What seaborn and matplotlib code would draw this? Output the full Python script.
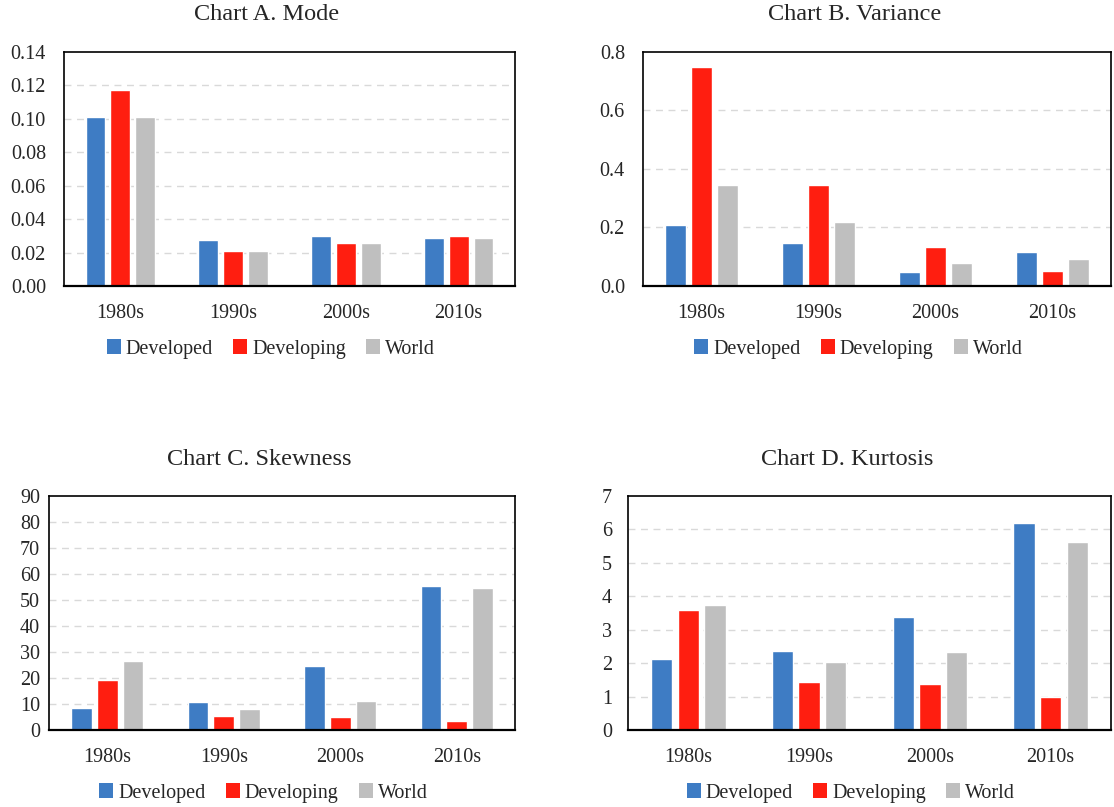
import pandas as pd
import numpy as np
import matplotlib.pyplot as plt
import seaborn as sns
from matplotlib.patches import Patch

## dados

decadas = ['1980s', '1990s', '2000s', '2010s']
grupos = ['Developed', 'Developing', 'World']

mode_developed = [0.101, 0.0274, 0.0302, 0.0286]
mode_developing = [0.117, 0.021, 0.0258, 0.030]
mode_world = [0.101, 0.021, 0.0258, 0.0286]

var_developed = [0.208, 0.147, 0.047, 0.116]
var_developing = [0.750, 0.344, 0.132, 0.051]
var_world = [0.344, 0.220, 0.080, 0.094]

skew_developed = [8.6, 10.9, 24.8, 55.4]
skew_developing = [19.2, 5.4, 5.0, 3.5]
skew_world = [26.5, 8.2, 11.3, 54.8]

kurt_developed = [2.11, 2.35, 3.37, 6.18]
kurt_developing = [3.59, 1.44, 1.39, 0.99]
kurt_world = [3.75, 2.04, 2.34, 5.63]

cores = ['#3E7CC4', '#FF1E10', '#BFBFBF']

sns.set_style('white')
plt.rcParams['font.family'] = ['Liberation Serif', 'DejaVu Serif']

fig = plt.figure(figsize=(11.14, 8.07), dpi=100)
W, H = 1114, 807


def montar_df(dev, deving, world):
    linhas = []
    for i, d in enumerate(decadas):
        linhas.append((d, 'Developed', dev[i]))
        linhas.append((d, 'Developing', deving[i]))
        linhas.append((d, 'World', world[i]))
    return pd.DataFrame(linhas, columns=['decada', 'grupo', 'valor'])


paineis = [
    # titulo, dados, caixa em pixels (esq, topo, dir, base), yticks, formato, pad
    ('Chart A. Mode', (mode_developed, mode_developing, mode_world),
     (64, 52, 515, 286), np.arange(0, 0.141, 0.02), '{:.2f}', 13),
    ('Chart B. Variance', (var_developed, var_developing, var_world),
     (643, 52, 1111, 286), np.arange(0, 0.81, 0.2), '{:.1f}', 13),
    ('Chart C. Skewness', (skew_developed, skew_developing, skew_world),
     (49, 496, 515, 730), np.arange(0, 91, 10), '{:.0f}', 6.5),
    ('Chart D. Kurtosis', (kurt_developed, kurt_developing, kurt_world),
     (628, 496, 1111, 730), np.arange(0, 7.1, 1), '{:.0f}', 11.5),
]

for titulo, dados, caixa, yticks, fmt, pad in paineis:
    x0, y0, x1, y1 = caixa
    ax = fig.add_axes([x0 / W, 1 - y1 / H, (x1 - x0) / W, (y1 - y0) / H])
    df = montar_df(*dados)
    sns.barplot(data=df, x='decada', y='valor', hue='grupo', order=decadas,
                hue_order=grupos, palette=cores, width=0.66, gap=0.2,
                ax=ax, legend=False, saturation=1)
    ax.set_xlim(-0.5, 3.5)
    ax.set_ylim(yticks[0], yticks[-1])
    ax.set_yticks(yticks)
    ax.set_yticklabels([fmt.format(v) for v in yticks], fontsize=14.5)
    ax.tick_params(axis='y', length=0, pad=pad)
    ax.tick_params(axis='x', length=0, pad=13, labelsize=14.5)
    ax.set_xlabel('')
    ax.set_ylabel('')
    for v in yticks[1:-1]:
        ax.axhline(v, color='#D9D9D9', lw=1, ls=(0, (5, 4)), zorder=0)
    for s in ax.spines.values():
        s.set_color('black')
        s.set_linewidth(1.2)
    ax.spines['bottom'].set_linewidth(1.6)

    cx = (x0 - 45 + x1) / 2 / W
    fig.text(cx, 1 - (y0 - 37) / H, titulo, ha='center', va='center', fontsize=17.5)

    handles = [Patch(facecolor=c, edgecolor='none') for c in cores]
    fig.legend(handles, grupos, loc='center', bbox_to_anchor=(cx + 4 / W, 1 - (y1 + 63) / H),
               ncol=3, frameon=False, fontsize=14.5, handlelength=0.7,
               handleheight=0.7, handletextpad=0.25, columnspacing=1.0)

plt.savefig('out.png', dpi=100)
